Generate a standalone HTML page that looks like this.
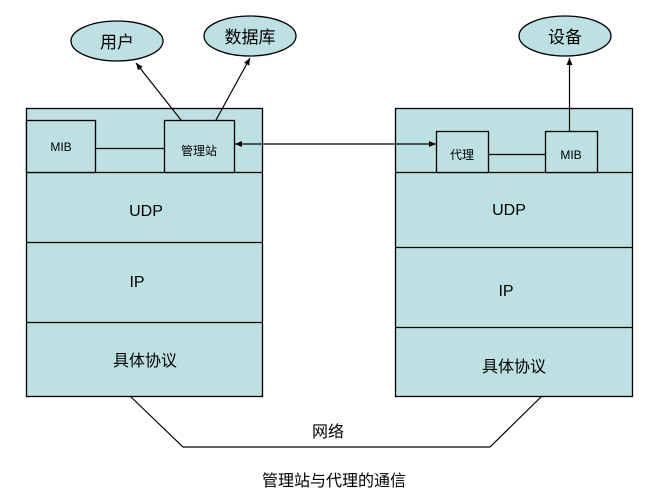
<!DOCTYPE html>
<html><head><meta charset="utf-8"><style>
body{margin:0;background:#fff}
text{font-family:"Liberation Sans","Noto Sans CJK SC",sans-serif;fill:#000}
</style></head><body>
<svg width="660" height="498" viewBox="0 0 660 498" xmlns="http://www.w3.org/2000/svg">
<defs><marker id="a" markerWidth="8" markerHeight="8" refX="7" refY="4" orient="auto" markerUnits="userSpaceOnUse"><path d="M0,1 L7,4 L0,7 z" fill="#000"/></marker>
<marker id="b" markerWidth="8" markerHeight="8" refX="1" refY="4" orient="auto" markerUnits="userSpaceOnUse"><path d="M8,1 L1,4 L8,7 z" fill="#000"/></marker></defs>
<g stroke="#000" stroke-width="1.3" fill="#bde0e3">
<rect x="26.5" y="108.5" width="236" height="288"/>
<line x1="26" y1="172.5" x2="262" y2="172.5"/>
<line x1="26" y1="242.5" x2="262" y2="242.5"/>
<line x1="26" y1="322.5" x2="262" y2="322.5"/>
<rect x="26.5" y="120.5" width="69" height="52"/>
<rect x="164.5" y="120.5" width="70" height="52"/>
<line x1="95" y1="148.5" x2="164" y2="148.5"/>
<rect x="395.5" y="108.5" width="237" height="288"/>
<line x1="395" y1="172.5" x2="632" y2="172.5"/>
<line x1="395" y1="247.5" x2="632" y2="247.5"/>
<line x1="395" y1="327.5" x2="632" y2="327.5"/>
<rect x="436.5" y="131.5" width="52" height="41"/>
<rect x="545.5" y="131.5" width="52" height="41"/>
<line x1="488" y1="154.5" x2="545" y2="154.5"/>
<ellipse cx="117" cy="41" rx="46" ry="20"/>
<ellipse cx="250" cy="36" rx="46" ry="20"/>
<ellipse cx="565" cy="36" rx="46" ry="20"/>
</g>
<g stroke="#000" stroke-width="1.2" fill="none">
<line x1="181" y1="120" x2="136" y2="63" marker-end="url(#a)"/>
<line x1="216" y1="120" x2="250" y2="58" marker-end="url(#a)"/>
<line x1="569.5" y1="131" x2="569.5" y2="58" marker-end="url(#a)"/>
<line x1="235" y1="144" x2="436" y2="144" marker-start="url(#b)" marker-end="url(#a)"/>
<polyline points="130,396 183,447 490,447 542,396"/>
</g>
<text x="117" y="48" font-size="17" text-anchor="middle">用户</text>
<text x="250" y="43" font-size="17" text-anchor="middle">数据库</text>
<text x="565" y="43" font-size="17" text-anchor="middle">设备</text>
<text x="61" y="151" font-size="12" text-anchor="middle">MIB</text>
<text x="199" y="155" font-size="12" text-anchor="middle">管理站</text>
<text x="462" y="159" font-size="12" text-anchor="middle">代理</text>
<text x="571" y="159" font-size="12" text-anchor="middle">MIB</text>
<text x="146" y="216" font-size="16" text-anchor="middle">UDP</text>
<text x="137" y="287" font-size="16" text-anchor="middle">IP</text>
<text x="145" y="366" font-size="16" text-anchor="middle">具体协议</text>
<text x="509" y="215" font-size="16" text-anchor="middle">UDP</text>
<text x="506" y="296" font-size="16" text-anchor="middle">IP</text>
<text x="514" y="372" font-size="16" text-anchor="middle">具体协议</text>
<text x="328" y="437" font-size="16" text-anchor="middle">网络</text>
<text x="334" y="486" font-size="16" text-anchor="middle">管理站与代理的通信</text>
</svg>
</body></html>
